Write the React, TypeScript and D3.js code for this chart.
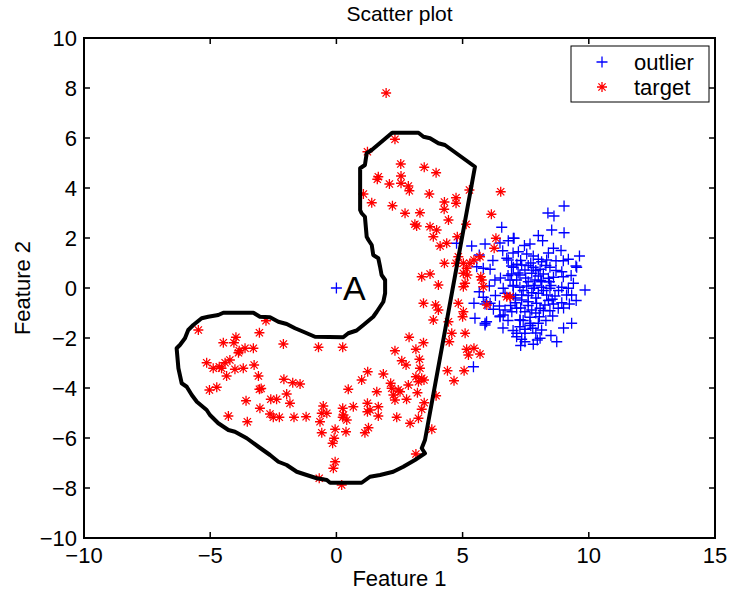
import React from "react";
import * as d3 from "d3";

const W = 731;
const H = 593;

const xTicks = [-10, -5, 0, 5, 10, 15];
const yTicks = [-10, -8, -6, -4, -2, 0, 2, 4, 6, 8, 10];

const targetPts: [number, number][] = [
  [2.32,5.95],[1.23,5.45],[2.55,4.96],[3.48,4.83],[3.95,4.61],[1.66,4.45],[2.56,4.48],[1.62,4.35],[2.10,4.16],[2.56,4.19],[2.85,4.08],[2.89,3.89],[3.68,3.76],[1.07,3.76],[1.40,3.41],[2.22,3.29],[4.28,3.44],[4.74,3.61],[4.74,3.39],[4.27,3.15],[5.27,3.92],[6.51,3.85],[2.72,2.99],[3.31,3.01],[6.14,2.95],[3.11,2.55],[3.18,2.48],[3.71,2.45],[4.44,2.72],[3.97,2.32],[3.84,2.05],[5.14,2.55],[4.79,2.05],[4.37,1.79],[4.11,1.68],[6.32,1.99],[6.25,1.59],[4.83,1.25],[4.74,0.99],[4.28,0.99],[5.03,0.99],[5.29,0.99],[5.45,1.12],[5.69,1.25],[5.03,0.59],[5.19,0.52],[5.72,0.45],[5.76,0.32],[3.38,0.45],[3.71,0.56],[4.04,0.12],[5.10,0.19],[5.03,0.05],[5.82,0.05],[3.45,-0.61],[3.93,-0.68],[4.04,-0.88],[4.83,-0.61],[5.03,-0.95],[5.00,-1.15],
  [6.75,-0.35],[6.88,-0.35],[5.96,-0.68],[5.16,0.79],[1.97,7.8],
  [3.84,-1.28],[4.44,-1.35],[4.57,-1.81],[4.47,-2.15],[5.10,-1.81],[2.88,-1.97],[3.45,-2.19],[2.32,-2.51],[3.15,-2.45],[5.16,-2.45],[5.23,-2.68],[5.45,-2.41],[5.69,-2.64],[3.29,-2.85],[2.59,-2.91],[2.76,-3.08],[3.31,-3.21],[1.24,-3.35],[1.86,-3.44],[1.00,-3.68],[2.15,-3.81],[2.85,-3.88],[3.38,-3.61],[3.47,-3.68],[3.25,-3.75],[3.15,-3.55],[4.40,-3.31],[5.06,-3.31],[4.66,-3.71],[2.19,-4.01],[2.26,-4.28],[2.32,-4.48],[2.45,-4.08],[2.52,-4.15],[1.60,-4.15],[2.78,-4.45],[3.21,-4.19],[3.95,-4.31],[3.48,-4.59],[3.38,-4.85],[1.23,-4.61],[1.33,-4.88],[1.66,-4.75],[1.23,-4.95],[1.66,-5.12],[2.39,-5.17],[3.25,-5.21],[2.92,-5.41],[3.78,-5.65],[1.27,-5.59],[1.13,-5.79],[3.15,-6.64],
  [-2.79,-1.31],[-5.47,-1.68],[-3.05,-1.79],[-3.98,-1.97],[-4.48,-2.19],[-4.06,-2.19],[-2.10,-2.24],[-0.71,-2.37],[0.25,-2.37],[-3.85,-2.51],[-3.88,-2.59],[-3.62,-2.41],[-3.29,-2.41],[-5.14,-2.99],[-4.88,-3.21],[-4.64,-3.15],[-4.55,-3.21],[-4.41,-2.99],[-4.22,-2.88],[-4.35,-3.52],[-4.02,-3.25],[-3.69,-3.21],[-3.26,-3.08],[-3.09,-3.52],[-5.03,-4.08],[-4.74,-3.97],[-3.05,-4.05],[-2.98,-4.02],[-3.58,-4.51],[-3.03,-4.81],[-4.28,-5.12],[-3.53,-5.35],[-2.60,-4.45],[-2.37,-4.45],[-2.08,-3.65],[-1.73,-3.79],[-1.44,-3.84],[-1.97,-4.24],[-1.84,-4.61],[-2.63,-5.04],[-2.50,-5.17],[-2.26,-5.17],[-1.68,-5.17],[-1.20,-5.15],[-0.52,-4.72],[-0.38,-5.01],[-0.58,-5.01],[-0.65,-5.35],[0.25,-4.81],[0.28,-5.08],[0.41,-5.28],[0.25,-5.17],[0.47,-4.05],[0.67,-4.75],[-0.58,-5.79],[-0.05,-5.65],[-0.09,-6.01],[-0.15,-6.21],[0.38,-5.75],[-0.05,-6.95],[-0.12,-7.21],[-0.68,-7.61],[0.21,-7.88]
];

const outlierPts: [number, number][] = [
  [0,0],
  [9.02,3.28],[8.62,2.88],[6.55,2.43],[8.53,2.32],[9.02,2.21],[7.04,1.99],[6.81,1.89],[8.17,1.89],[7.67,1.76],[5.89,1.76],[5.36,1.68],[8.60,1.59],[6.59,1.49],[7.21,1.45],[7.54,1.36],[7.80,1.28],[9.63,1.28],[9.19,1.15],[5.66,1.32],[6.75,1.19],[6.81,1.12],[8.00,1.15],[8.13,1.05],[8.33,1.12],[8.70,1.09],[8.99,1.09],[9.49,0.88],[9.52,0.83],[5.56,0.85],[5.82,0.79],[6.09,0.75],[6.94,0.88],[7.01,0.83],[7.34,0.92],[7.47,0.72],[7.80,0.83],[8.07,0.75],[8.46,0.83],[8.93,0.65],[6.94,0.56],[7.27,0.52],[7.74,0.59],[8.00,0.48],[8.20,0.56],[8.40,0.39],[8.60,0.43],[8.99,0.45],[6.28,0.32],[6.88,0.32],[7.14,0.32],[7.60,0.25],[7.87,0.32],[8.13,0.25],[8.44,0.25],[9.39,0.19],[9.85,-0.08],[6.06,0.08],[6.61,-0.01],[7.01,0.08],[7.27,0.03],[7.54,0.08],[7.80,-0.01],[8.13,0.03],[8.46,-0.01],[8.93,0.03],[9.19,-0.01],[5.66,-0.15],[5.82,-0.37],[6.68,-0.21],[7.01,-0.28],[7.34,-0.28],[7.74,-0.19],[8.00,-0.21],[8.33,-0.28],[8.66,-0.32],[9.12,-0.28],[9.32,-0.28],[5.45,-0.61],[6.09,-0.61],[6.46,-0.72],[7.08,-0.59],[7.34,-0.48],[7.60,-0.55],[7.93,-0.61],[8.26,-0.68],[8.60,-0.64],[8.93,-0.59],[9.23,-0.64],[6.22,-0.85],[6.68,-0.88],[7.14,-0.81],[7.47,-0.95],[7.74,-0.88],[8.07,-0.81],[8.46,-0.91],[8.79,-0.81],[5.49,-1.21],[6.48,-1.12],[7.27,-1.28],[7.67,-1.17],[8.04,-1.15],[8.57,-1.12],[5.89,-1.41],[7.67,-1.41],[8.00,-1.41],[9.32,-1.41],[7.27,-1.55],[7.78,-1.61],[8.13,-1.68],[7.14,-1.81],[7.47,-1.81],[8.07,-2.01],[7.47,-2.15],[8.73,-2.15],[7.96,-2.08],
  [5.43,-3.15],[6.61,-1.08],[7.28,-1.28],[7.47,-1.65],[7.14,-1.95],[7.34,-2.05],[5.95,-1.35],[5.89,-1.48],[5.89,-0.64],[4.76,1.79],[6.48,1.80],[8.38,3.0],[5.95,-0.55],[6.48,-1.15],[7.01,1.99],
  [7.2,0.6],[7.5,0.4],[7.9,0.7],[8.3,0.9],[7.7,1.0],[7.4,-0.1],[7.6,-0.3],[7.9,-0.4],[8.2,-0.1],[8.5,0.1],[7.1,-0.4],[6.9,-0.7],[7.3,-0.8],[7.6,-0.7],[7.9,-1.0],[8.2,-0.9],[8.4,-0.5],[7.0,0.1],[6.8,0.5],[7.6,0.9],[8.1,0.3],[8.8,-0.1],[8.7,0.7],[7.3,1.1],[7.0,1.4],[8.4,1.4],[7.7,-1.5],[7.4,-1.3],[8.3,-1.3],[6.8,-1.3],[7.0,-1.7],[7.9,-1.8],[6.3,-0.3],[6.5,0.4],[6.2,1.1],[9.5,-0.5],[9.0,-0.8],[8.9,1.5],[9.3,0.5],[6.6,-1.6],[7.8,-2.25],[7.3,-2.3],[8.5,-1.9],[9.0,-1.6],[7.85,0.1],[7.15,0.95],[6.95,-0.95],[8.55,-0.45],[7.45,1.7],[8.0,2.1]
];

const boundary: [number, number][] = [
  [2.21,6.21],[3.25,6.21],[3.45,6.05],[3.71,5.99],[4.04,5.79],[4.30,5.72],[5.49,4.85],[3.51,-6.08],[3.38,-6.41],[3.51,-6.61],[3.11,-6.88],[2.65,-7.15],[2.25,-7.35],[1.73,-7.48],[1.33,-7.55],[1.00,-7.79],[-0.25,-7.79],[-0.38,-7.68],[-0.78,-7.61],[-1.18,-7.48],[-1.57,-7.35],[-1.97,-7.08],[-2.30,-6.95],[-2.63,-6.68],[-3.09,-6.35],[-3.55,-6.01],[-4.02,-5.75],[-4.28,-5.68],[-4.68,-5.41],[-5.01,-5.08],[-5.14,-4.88],[-5.53,-4.55],[-5.73,-4.28],[-5.93,-3.95],[-6.13,-3.81],[-6.26,-3.21],[-6.33,-2.41],[-6.20,-2.28],[-6.0,-2.01],[-5.87,-1.68],[-5.67,-1.48],[-5.34,-1.21],[-5.08,-1.15],[-4.68,-1.08],[-4.48,-0.99],[-3.29,-0.99],[-3.03,-1.15],[-2.63,-1.17],[-2.30,-1.35],[-1.97,-1.44],[-1.64,-1.61],[-1.31,-1.75],[-0.85,-1.95],[0.27,-1.97],[0.47,-1.81],[0.80,-1.70],[1.07,-1.48],[1.46,-1.15],[1.60,-0.95],[1.73,-0.75],[1.86,-0.55],[1.93,-0.21],[1.93,0.32],[1.79,0.52],[1.73,0.85],[1.66,1.19],[1.46,1.32],[1.40,1.72],[1.27,1.92],[1.20,2.05],[1.13,2.85],[1.00,2.99],[0.94,3.12],[0.94,4.79],[1.13,4.92],[1.20,5.39],[1.40,5.52]
];

const labelA = { text: "A", x: 0.26, y: -0.48 };

const FONT = "'Liberation Sans', Arial, Helvetica, sans-serif";

function plusPath(cx: number, cy: number, r: number) {
  return `M${cx - r},${cy}H${cx + r}M${cx},${cy - r}V${cy + r}`;
}
function starPath(cx: number, cy: number, r: number) {
  const d = r * 0.72;
  return (
    plusPath(cx, cy, r) +
    `M${cx - d},${cy - d}L${cx + d},${cy + d}M${cx - d},${cy + d}L${cx + d},${cy - d}`
  );
}

export default function App() {
  const left = 84, right = 715, top = 38, bottom = 538;
  const x = d3.scaleLinear().domain([-10, 15]).range([left, right]);
  const y = d3.scaleLinear().domain([-10, 10]).range([bottom, top]);
  const line = d3
    .line<[number, number]>()
    .x((d) => x(d[0]))
    .y((d) => y(d[1]))
    .curve(d3.curveLinearClosed);
  const tickLen = 6;
  const minus = (v: number) => (v < 0 ? "\u2212" + Math.abs(v) : String(v));

  return (
    <svg
      width={W}
      height={H}
      style={{ position: "absolute", left: 0, top: 0, background: "#fff" }}
      fontFamily={FONT}
    >
      <rect x={0} y={0} width={W} height={H} fill="#fff" />
      <defs>
        <clipPath id="plotclip">
          <rect x={left} y={top} width={right - left} height={bottom - top} />
        </clipPath>
      </defs>
      <g clipPath="url(#plotclip)">
        {outlierPts.map((p, i) => (
          <path key={"o" + i} d={plusPath(x(p[0]), y(p[1]), 5.5)} stroke="#0000ff" strokeWidth={1.3} fill="none" />
        ))}
        {targetPts.map((p, i) => (
          <path key={"t" + i} d={starPath(x(p[0]), y(p[1]), 5)} stroke="#ff0000" strokeWidth={1.3} fill="none" />
        ))}
        <path d={line(boundary) || ""} fill="none" stroke="#000" strokeWidth={4} strokeLinejoin="round" />
      </g>
      <text x={x(labelA.x)} y={y(labelA.y)} fontSize={34} fill="#000">
        {labelA.text}
      </text>

      <rect x={left} y={top} width={right - left} height={bottom - top} fill="none" stroke="#000" strokeWidth={2} />
      {xTicks.map((t) => (
        <g key={"xt" + t}>
          <line x1={x(t)} x2={x(t)} y1={bottom} y2={bottom - tickLen} stroke="#000" strokeWidth={1.5} />
          <line x1={x(t)} x2={x(t)} y1={top} y2={top + tickLen} stroke="#000" strokeWidth={1.5} />
          <text x={x(t)} y={bottom + 25} fontSize={22} textAnchor="middle" fill="#000">
            {minus(t)}
          </text>
        </g>
      ))}
      {yTicks.map((t) => (
        <g key={"yt" + t}>
          <line x1={left} x2={left + tickLen} y1={y(t)} y2={y(t)} stroke="#000" strokeWidth={1.5} />
          <line x1={right} x2={right - tickLen} y1={y(t)} y2={y(t)} stroke="#000" strokeWidth={1.5} />
          <text x={left - 7} y={y(t) + 8} fontSize={22} textAnchor="end" fill="#000">
            {minus(t)}
          </text>
        </g>
      ))}
      <text x={(left + right) / 2} y={21} fontSize={21} textAnchor="middle" fill="#000">
        Scatter plot
      </text>
      <text x={(left + right) / 2} y={586} fontSize={22} textAnchor="middle" fill="#000">
        Feature 1
      </text>
      <text
        transform={`translate(30,${(top + bottom) / 2}) rotate(-90)`}
        fontSize={22}
        textAnchor="middle"
        fill="#000"
      >
        Feature 2
      </text>

      <rect x={571} y={46} width={138} height={56} fill="#fff" stroke="#000" strokeWidth={1} />
      <path d={plusPath(602, 62, 5.5)} stroke="#0000ff" strokeWidth={1.3} fill="none" />
      <path d={starPath(602, 87, 5)} stroke="#ff0000" strokeWidth={1.3} fill="none" />
      <text x={634} y={70} fontSize={22} fill="#000">outlier</text>
      <text x={634} y={95} fontSize={22} fill="#000">target</text>
    </svg>
  );
}
